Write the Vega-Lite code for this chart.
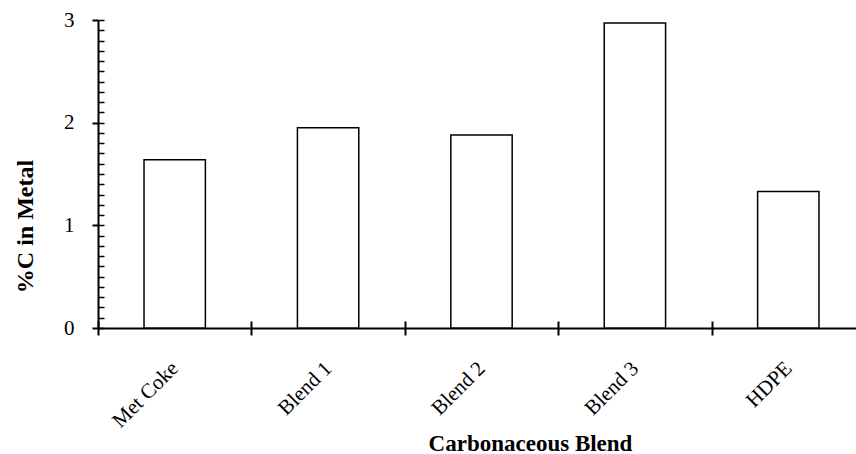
{
  "$schema": "https://vega.github.io/schema/vega-lite/v6.json",
  "autosize": {"type": "none"},
  "padding": {"left": 98, "top": 20, "right": 0, "bottom": 126},
  "width": 758,
  "height": 308,
  "background": "white",
  "config": {"view": {"stroke": null}, "font": "Liberation Serif"},
  "data": {"values": [
    {"blend": "Met Coke", "carbon": 1.64},
    {"blend": "Blend 1", "carbon": 1.95},
    {"blend": "Blend 2", "carbon": 1.88},
    {"blend": "Blend 3", "carbon": 2.97},
    {"blend": "HDPE", "carbon": 1.33}
  ]},
  "resolve": {"axis": {"x": "independent", "y": "independent"}},
  "layer": [
    {
      "mark": {"type": "bar", "fill": "white", "stroke": "black", "strokeWidth": 1.5, "width": {"band": 0.4}},
      "encoding": {
        "x": {"field": "blend", "type": "nominal", "sort": null,
          "scale": {"paddingInner": 0, "paddingOuter": 0, "range": [0, 767]},
          "axis": {"orient": "bottom", "title": "Carbonaceous Blend", "tickBand": "extent",
            "domainColor": "black", "domainWidth": 2, "tickColor": "black", "tickWidth": 2, "tickSize": 7,
            "labelAngle": -45, "labelAlign": "right", "labelBaseline": "middle", "labelPadding": 30,
            "labelFont": "Liberation Serif", "labelFontSize": 21, "labelColor": "black",
            "titleFont": "Liberation Serif", "titleFontSize": 23, "titleFontWeight": "bold", "titleColor": "black",
            "titleX": 432, "titleY": 122, "titleBaseline": "alphabetic", "titleAnchor": "middle"}},
        "y": {"field": "carbon", "type": "quantitative",
          "scale": {"domain": [0, 3], "nice": false, "zero": true},
          "axis": {"orient": "left", "title": "%C in Metal", "values": [0, 1, 2, 3], "grid": false,
            "domainColor": "black", "domainWidth": 2, "tickColor": "black", "tickWidth": 2, "tickSize": 6,
            "labelPadding": 18, "labelFont": "Liberation Serif", "labelFontSize": 21, "labelColor": "black",
            "titleFont": "Liberation Serif", "titleFontSize": 24, "titleFontWeight": "bold", "titleColor": "black",
            "titleX": -66, "titleY": 206, "titleBaseline": "alphabetic", "titleAnchor": "middle"}}
      }
    },
    {
      "mark": {"type": "bar", "opacity": 0, "width": {"band": 0.4}},
      "encoding": {
        "x": {"field": "blend", "type": "nominal", "sort": null,
          "axis": {"orient": "top", "offset": -308, "tickBand": "extent", "labels": false, "domain": false, "title": null,
            "tickColor": "black", "tickWidth": 2, "tickSize": 7}},
        "y": {"field": "carbon", "type": "quantitative",
          "axis": {"orient": "right", "offset": -758, "labels": false, "domain": false, "title": null, "grid": false,
            "values": [0, 0.1, 0.2, 0.3, 0.4, 0.5, 0.6, 0.7, 0.8, 0.9, 1, 1.1, 1.2, 1.3, 1.4, 1.5, 1.6, 1.7, 1.8, 1.9, 2, 2.1, 2.2, 2.3, 2.4, 2.5, 2.6, 2.7, 2.8, 2.9, 3],
            "tickColor": "black", "tickWidth": 1.5, "tickSize": 6}}
      }
    }
  ]
}
